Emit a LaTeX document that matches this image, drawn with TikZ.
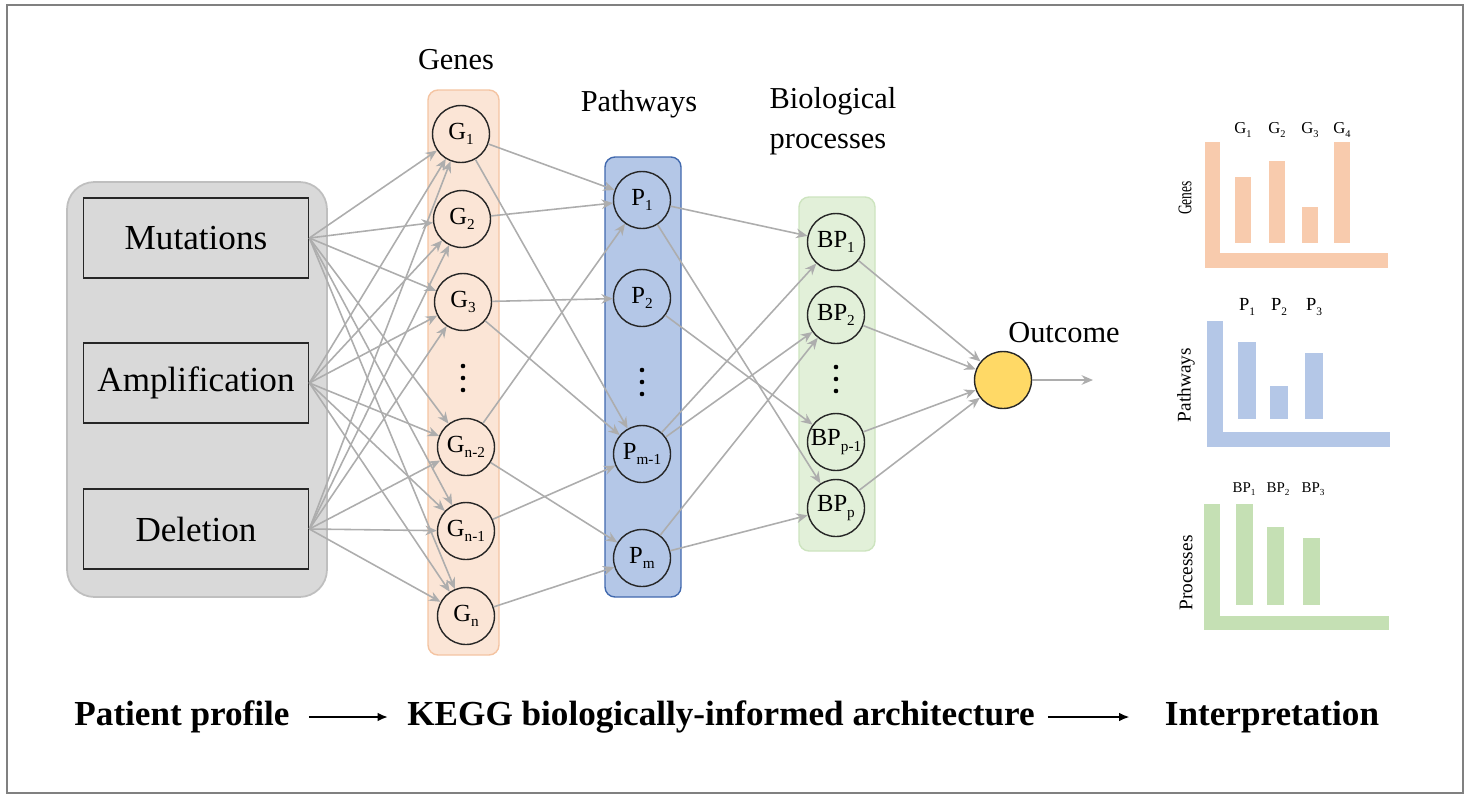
\documentclass[tikz,border=0pt]{standalone}
\usepackage{fontspec}
\setmainfont{Liberation Serif}
\usepackage{graphicx}
\usetikzlibrary{positioning,arrows.meta}

\definecolor{geneback}{HTML}{FBE5D6}
\definecolor{geneline}{HTML}{F4C4A2}
\definecolor{pathback}{HTML}{B4C7E7}
\definecolor{pathline}{HTML}{4169AE}
\definecolor{bpback}{HTML}{E2F0D9}
\definecolor{bpline}{HTML}{CDE4BF}
\definecolor{inback}{HTML}{D9D9D9}
\definecolor{inline}{HTML}{BFBFBF}
\definecolor{outback}{HTML}{FFD966}
\definecolor{linkgray}{HTML}{ADADAD}
\definecolor{genebar}{HTML}{F8CBAD}
\definecolor{pathbar}{HTML}{B4C7E7}
\definecolor{bpbar}{HTML}{C5E0B4}

\newcommand\lowidx[1]{\raisebox{-0.5ex}{\scalebox{0.62}{#1}}}

\tikzset{
  neuron/.style={circle,draw=black!85,line width=0.8pt,minimum size=1.14cm,inner sep=0pt,font=\fontsize{14}{14}\selectfont},
  inbox/.style={draw=black!85,line width=1pt,fill=inback,minimum width=4.5cm,minimum height=1.6cm,font=\fontsize{20}{20}\selectfont},
  link/.style={draw=linkgray,line width=0.9pt,-{Stealth[length=6.5pt,width=5.5pt]}},
  colhead/.style={font=\fontsize{17.3}{22.7}\selectfont},
  axislab/.style={rotate=90,font=\fontsize{11}{11}\selectfont},
  barlab/.style={font=\fontsize{9.5}{9.5}\selectfont},
  stage/.style={font=\fontsize{20}{20}\selectfont\bfseries,inner sep=0pt},
  flow/.style={line width=1.2pt,-{Latex[length=6pt,width=5pt]}}
}

\begin{document}
\begin{tikzpicture}[x=0.02cm,y=-0.02cm]
        \useasboundingbox (0,0) rectangle (1470,795);
        \draw[black!50,line width=0.8pt] (7,5) rectangle (1463,793);

        \draw[inline,fill=inback,line width=1pt,rounded corners=0.55cm] (67,182) rectangle (327,597);
        \draw[geneline,fill=geneback,line width=0.8pt,rounded corners=0.2cm] (428,90) rectangle (499,655);
        \draw[pathline,fill=pathback,line width=0.8pt,rounded corners=0.2cm] (605,157) rectangle (681,597);
        \draw[bpline,fill=bpback,line width=0.8pt,rounded corners=0.2cm] (799,197) rectangle (875,551);

        \node[inbox] (mut) at (196,238) {Mutations};
        \node[inbox] (amp) at (196,383) {Amplification};
        \node[inbox] (del) at (196,529) {Deletion};

        \node[neuron,fill=geneback] (g1) at (461,134) {G\lowidx{1}};
        \node[neuron,fill=geneback] (g2) at (462,219) {G\lowidx{2}};
        \node[neuron,fill=geneback] (g3) at (463,302) {G\lowidx{3}};
        \node[neuron,fill=geneback] (gn2) at (466,447) {G\lowidx{n-2}};
        \node[neuron,fill=geneback] (gn1) at (466,531) {G\lowidx{n-1}};
        \node[neuron,fill=geneback] (gn) at (466,616) {G\lowidx{n}};

        \node[neuron,fill=pathback] (p1) at (642,200) {P\lowidx{1}};
        \node[neuron,fill=pathback] (p2) at (642,298) {P\lowidx{2}};
        \node[neuron,fill=pathback] (pm1) at (642,454) {P\lowidx{m-1}};
        \node[neuron,fill=pathback] (pm) at (642,558) {P\lowidx{m}};

        \node[neuron,fill=bpback] (bp1) at (836,242) {BP\lowidx{1}};
        \node[neuron,fill=bpback] (bp2) at (836,315) {BP\lowidx{2}};
        \node[neuron,fill=bpback] (bpp1) at (836,442) {BP\lowidx{p-1}};
        \node[neuron,fill=bpback] (bpp) at (836,508) {BP\lowidx{p}};

        \node[neuron,fill=outback] (out) at (1003,380) {};
        \coordinate (outend) at (1093,380);

        \foreach \d in {-12,0,12} {
            \fill (463,378+\d) circle (1.3pt);
            \fill (642,382+\d) circle (1.3pt);
            \fill (836,379+\d) circle (1.3pt);
        }

        \foreach \s in {mut,amp,del}
            \foreach \t in {g1,g2,g3,gn2,gn1,gn}
                \draw[link] (\s.east) -- (\t);
        \foreach \s/\t in {g1/p1,g1/pm1,g2/p1,g3/p2,g3/pm1,gn2/p1,gn2/pm,gn1/pm1,gn/pm}
            \draw[link] (\s) -- (\t);
        \foreach \s/\t in {p1/bp1,p1/bpp,p2/bpp1,pm1/bp1,pm1/bp2,pm/bp2,pm/bpp}
            \draw[link] (\s) -- (\t);
        \foreach \s in {bp1,bp2,bpp1,bpp}
            \draw[link] (\s) -- (out);
        \draw[link] (out) -- (outend);

        \node[colhead] (genes) at (456,60) {Genes};
        \node[colhead] (paths) at (639,104) {Pathways};
        \node[colhead,align=left] (procs) at (833,121) {Biological\\processes};
        \node[colhead] (outlab) at (1064,333) {Outcome};

        \fill[genebar] (1205,142) rectangle (1220,268);
        \fill[genebar] (1205,253) rectangle (1388,268);
        \foreach \x/\t in {1235/177,1269/161,1302/207,1334/142}
            \fill[genebar] (\x,\t) rectangle (\x+16,243);
        \foreach \i/\x in {1/1243,2/1277,3/1310,4/1342}
            \node[barlab] (gb\i) at (\x,130) {G\lowidx{\i}};
        \node[axislab] (gax) at (1185,198) {\scalebox{0.7}[1]{Genes}};

        \fill[pathbar] (1207,321) rectangle (1223,447);
        \fill[pathbar] (1207,432) rectangle (1390,447);
        \foreach \x/\t in {1238/342,1270/386,1305/353}
            \fill[pathbar] (\x,\t) rectangle (\x+18,419);
        \foreach \i/\x in {1/1247,2/1279,3/1314}
            \node[barlab,font=\fontsize{10.5}{10.5}\selectfont] (pb\i) at (\x,307) {P\lowidx{\i}};
        \node[axislab] (pax) at (1186,385) {Pathways};

        \fill[bpbar] (1204,504) rectangle (1220,630);
        \fill[bpbar] (1204,616) rectangle (1389,630);
        \foreach \x/\t in {1236/504,1267/527,1303/538}
            \fill[bpbar] (\x,\t) rectangle (\x+17,605);
        \foreach \i/\x in {1/1244,2/1278,3/1313}
            \node[barlab,font=\fontsize{8.5}{8.5}\selectfont] (bb\i) at (\x,489) {BP\lowidx{\i}};
        \node[axislab] (bax) at (1186,573) {Processes};

        \node[stage] (pp) at (182,717) {Patient profile};
        \node[stage] (kegg) at (721,717) {KEGG biologically-informed architecture};
        \node[stage] (interp) at (1272,717) {Interpretation};
        \draw[flow,shorten <=0.38cm,shorten >=0.38cm] (pp) -- (kegg);
        \draw[flow,shorten <=0.26cm,shorten >=0.7cm] (kegg) -- (interp);
\end{tikzpicture}
\end{document}
